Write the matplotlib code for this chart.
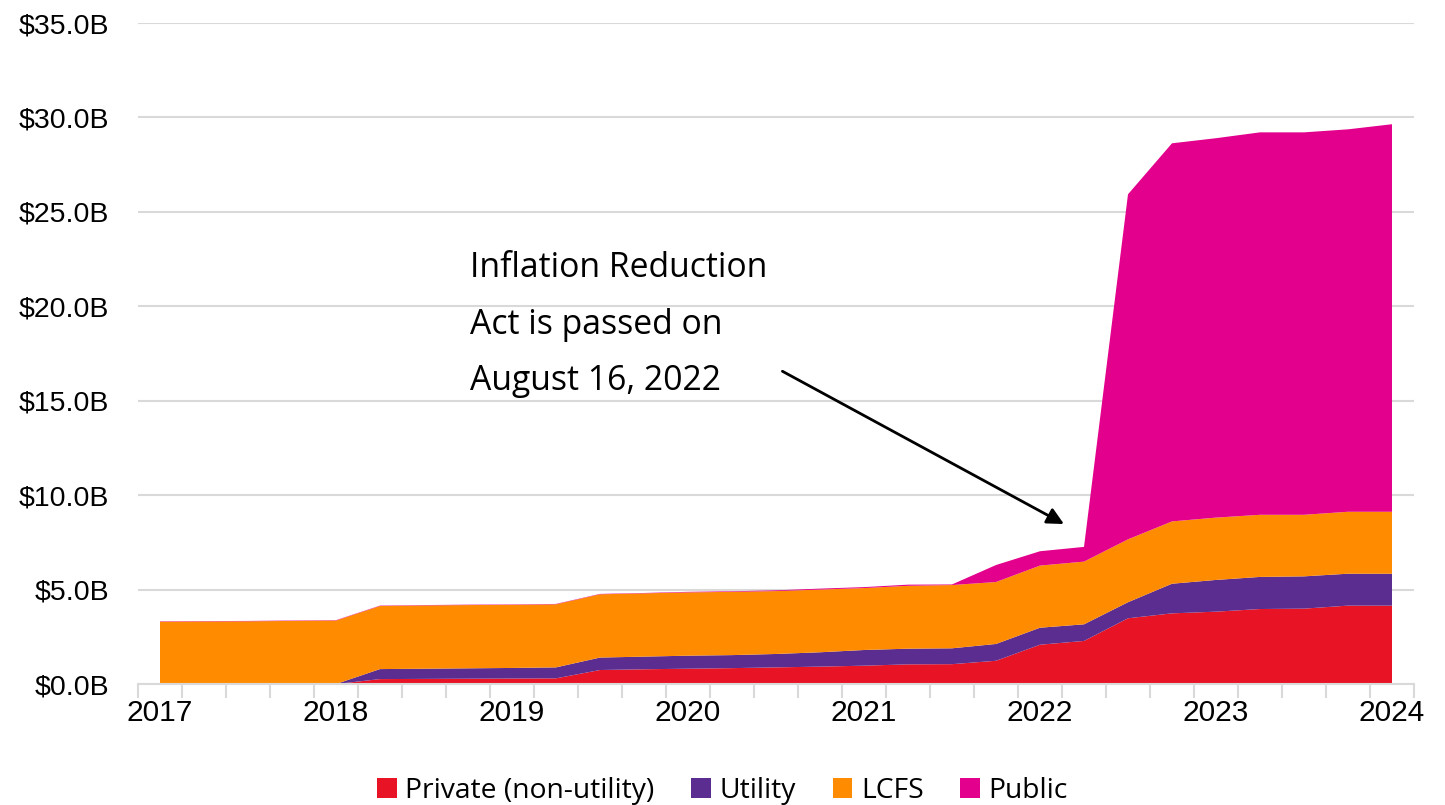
import matplotlib
matplotlib.use("Agg")
import matplotlib.pyplot as plt
from matplotlib.patches import Patch
import numpy as np

# Quarterly data, 2017 Q1 .. 2024 Q1 (billions USD)
quarters = list(range(29))
year_labels = ["2017", "2018", "2019", "2020", "2021", "2022", "2023", "2024"]

private = [0, 0, 0, 0, 0, 0.26, 0.27, 0.28, 0.29, 0.30, 0.74, 0.78, 0.81, 0.84, 0.88,
           0.92, 0.97, 1.04, 1.05, 1.23, 2.08, 2.28, 3.48, 3.74, 3.83, 3.97, 3.99, 4.15, 4.15]
utility = [0, 0, 0, 0, 0, 0.53, 0.54, 0.55, 0.56, 0.58, 0.66, 0.67, 0.69, 0.69, 0.71,
           0.76, 0.83, 0.83, 0.84, 0.89, 0.90, 0.88, 0.85, 1.57, 1.68, 1.70, 1.71, 1.69, 1.69]
lcfs = [3.30, 3.31, 3.32, 3.34, 3.36, 3.34, 3.35, 3.35, 3.34, 3.34, 3.35, 3.35, 3.35, 3.35, 3.33,
        3.32, 3.28, 3.33, 3.35, 3.28, 3.29, 3.32, 3.33, 3.30, 3.30, 3.29, 3.26, 3.28, 3.28]
public = [0.02, 0.02, 0.02, 0.02, 0.02, 0.02, 0.02, 0.02, 0.02, 0.02, 0.02, 0.02, 0.03, 0.03, 0.04,
          0.05, 0.05, 0.06, 0.03, 0.90, 0.76, 0.78, 18.27, 20.02, 20.09, 20.25, 20.25, 20.25, 20.52]

series_names = ["Private (non-utility)", "Utility", "LCFS", "Public"]
colors = ["#E81425", "#5C2D91", "#FF8C00", "#E3008C"]

W, H = 1445, 805
fig = plt.figure(figsize=(W / 100, H / 100), dpi=100)
ax = fig.add_axes([138 / W, (H - 684) / H, (1414 - 138) / W, (684 - 23) / H])

ax.stackplot(quarters, private, utility, lcfs, public, colors=colors, linewidth=0)

ax.set_xlim(-0.5, 28.5)
ax.set_ylim(0, 35)

yt = np.arange(0, 35.1, 5)
ax.set_yticks(yt)
ax.set_yticklabels([f"${v:.1f}B" for v in yt], fontsize=20.5, family="Liberation Sans")
ax.tick_params(axis="y", length=0, pad=21)
ax.grid(axis="y", color="#D9D9D9", linewidth=1.5)
ax.set_axisbelow(True)

ax.set_xticks(np.arange(0, 29, 4))
ax.set_xticklabels(year_labels, fontsize=21.5, family="Liberation Sans")
ax.set_xticks(np.arange(-0.5, 29, 1), minor=True)
ax.tick_params(axis="x", which="major", length=0, pad=11)
ax.tick_params(axis="x", which="minor", length=10, width=1.5, color="#D9D9D9")

for s in ["top", "right", "left"]:
    ax.spines[s].set_visible(False)
ax.spines["bottom"].set_color("#D9D9D9")
ax.spines["bottom"].set_linewidth(1.5)

# Annotation
ax.annotate("", xy=(20.6, 8.4), xytext=(14.09, 16.63),
            arrowprops=dict(arrowstyle="-|>,head_length=1.0,head_width=0.5", color="black", lw=2))
for txt, py in [("Inflation Reduction", 268), ("Act is passed on", 325), ("August 16, 2022", 381)]:
    fig.text(470 / W, 1 - py / H, txt, fontsize=24.3, family="Open Sans", va="center", ha="left")

handles = [Patch(facecolor=c, edgecolor="none") for c in colors]
fig.legend(handles, series_names, loc="center", bbox_to_anchor=(0.5, 1 - 791 / H), ncol=4,
           frameon=False, prop=dict(family="Open Sans", size=20.3), handlelength=0.7, handleheight=0.7,
           handletextpad=0.3, columnspacing=1.3)

fig.savefig("out.png", dpi=100)
